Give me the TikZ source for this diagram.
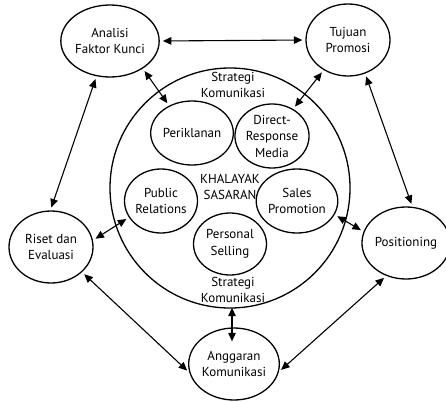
\documentclass[tikz,border=0pt]{standalone}
\usepackage{fontspec}
\setmainfont{PT Sans}
\usetikzlibrary{shapes.geometric,arrows.meta}
\begin{document}
\begin{tikzpicture}[x=1pt,y=-1pt,
  font=\fontsize{13}{16.5}\selectfont,
  oval/.style={draw,ellipse,line width=1.3pt,inner sep=0pt,align=center},
  outer/.style={oval,minimum width=84pt,minimum height=72pt},
  inner/.style={oval,minimum width=73pt,minimum height=64pt},
  link/.style={{Triangle[length=8.5pt,width=7.5pt]}-{Triangle[length=8.5pt,width=7.5pt]},
    line width=1.1pt,shorten <=3pt,shorten >=3pt},
  lbl/.style={align=center,inner sep=0pt}]
\useasboundingbox (0,0) rectangle (446,401);

% central strategy circle
\node[draw,circle,line width=1.3pt,minimum size=240pt,inner sep=0pt] (big) at (230,188) {};

% outer ring of planning steps
\node[outer] (ana) at (110,41) {Analisi\\Faktor Kunci};
\node[outer] (tuj) at (348,40) {Tujuan\\Promosi};
\node[outer] (ris) at (51,247) {Riset dan\\Evaluasi};
\node[outer,minimum width=78pt] (pos) at (406,243) {Positioning};
\node[outer] (ang) at (234,364) {Anggaran\\Komunikasi};

% communication mix inside the circle
\node[inner] (per) at (192,133) {Periklanan};
\node[inner] (dir) at (272,136) {Direct-\\Response\\Media};
\node[inner] (pub) at (161,201) {Public\\Relations};
\node[inner] (sal) at (297,201) {Sales\\Promotion};
\node[inner,minimum height=62pt] (pers) at (230,244) {Personal\\Selling};

\node[lbl] (st1) at (233,85) {Strategi\\Komunikasi};
\node[lbl] (kh) at (230,187) {KHALAYAK\\SASARAN};
\node[lbl] (st2) at (233,290) {Strategi\\Komunikasi};

% connections
\draw[link] (ana.east) -- (tuj.west);
\draw[link] (ana.320) -- (per.130);
\draw[link] (tuj.231) -- (dir.52);
\draw[link] (tuj.297) -- (pos.80);
\draw[link] (ana.249) -- (ris.91);
\draw[link] (ris.9) -- (pub.207);
\draw[link] (ris.321) -- (ang.191);
\draw[link] (sal.340) -- (pos.165);
\draw[link] (pos.239) -- (ang.350);
\draw[link,shorten <=-1pt,shorten >=-14pt] ([xshift=2pt]big.south) -- ([xshift=-2pt]ang.north);
\end{tikzpicture}
\end{document}
